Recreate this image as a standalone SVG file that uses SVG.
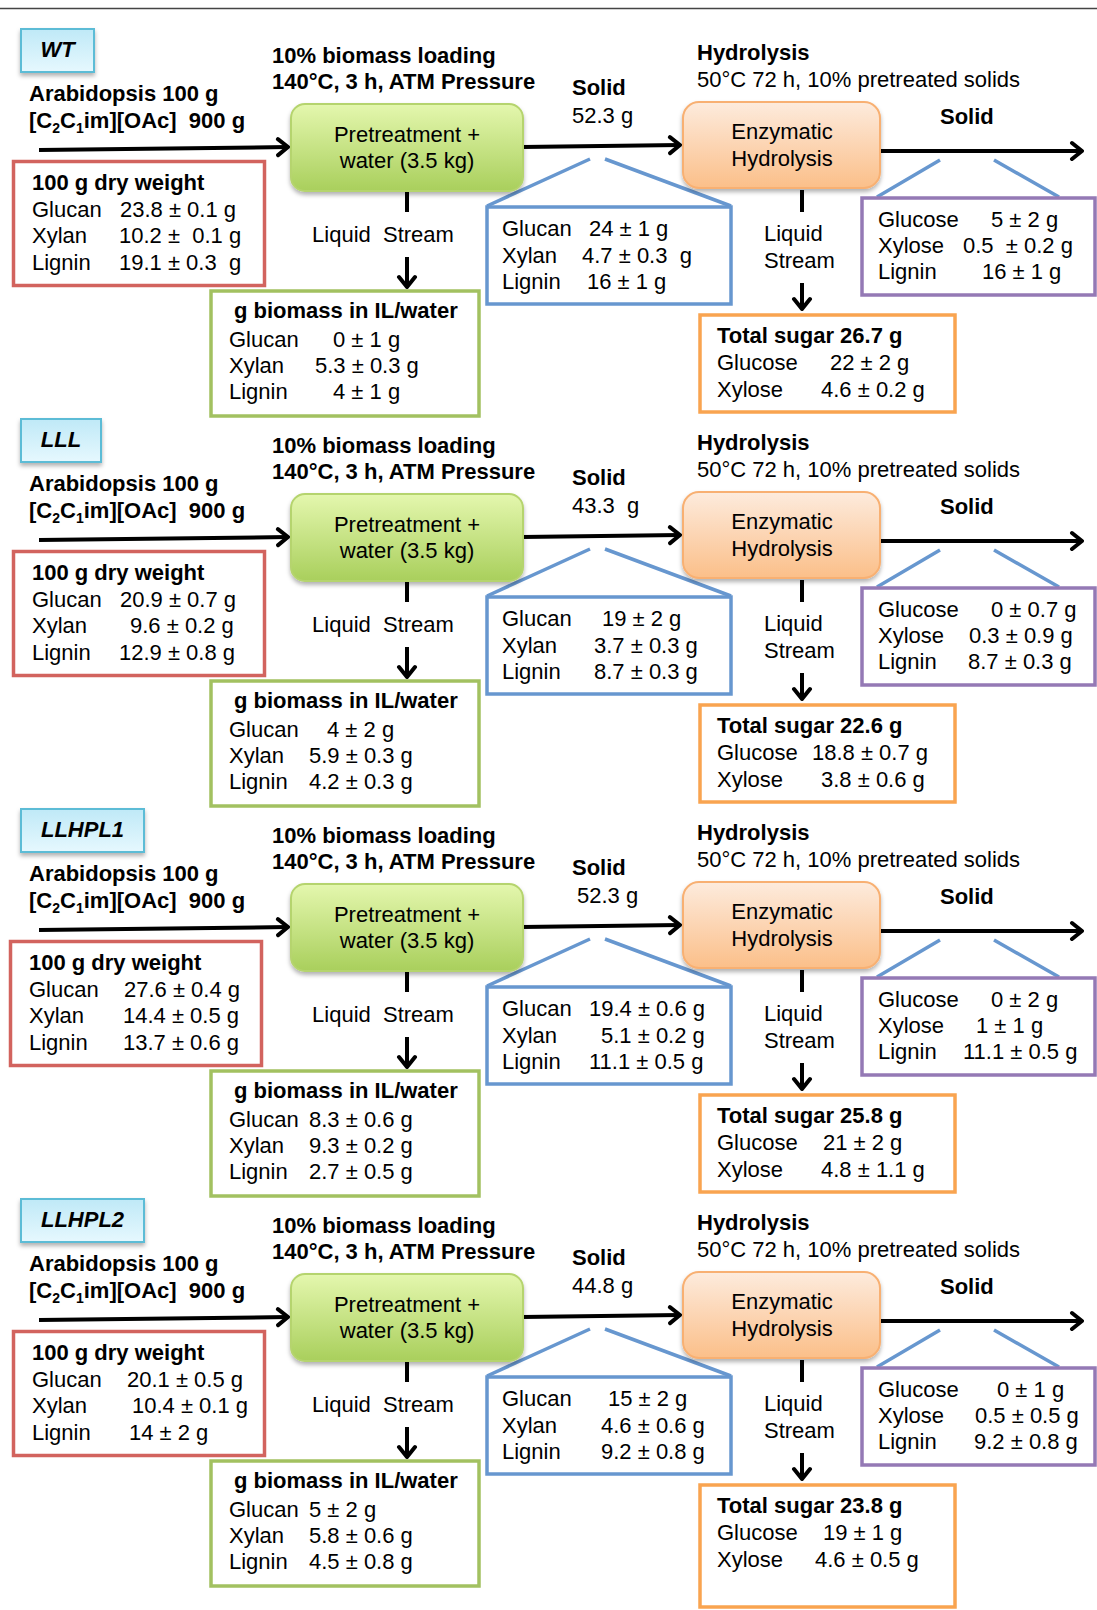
<svg xmlns="http://www.w3.org/2000/svg" width="1097" height="1610" viewBox="0 0 1097 1610">
<style>
text { font-family: "Liberation Sans", Arial, sans-serif; font-size: 22px; fill: #000; white-space: pre; }
.b { font-weight: bold; }
.bi { font-weight: bold; font-style: italic; }
.m { text-anchor: middle; }
.arrow { fill: none; stroke: #000; stroke-width: 4; marker-end: url(#ah); }
.line { fill: none; stroke: #000; stroke-width: 4; }
.tie { fill: none; stroke: #6797cf; stroke-width: 3.5; }
.red { fill: #fff; stroke: #d2635e; stroke-width: 3.5; }
.grn { fill: #fff; stroke: #a2c160; stroke-width: 3.5; }
.blu { fill: #fff; stroke: #6797cf; stroke-width: 3.5; }
.pur { fill: #fff; stroke: #9479b5; stroke-width: 3.5; }
.org { fill: #fff; stroke: #f9a450; stroke-width: 3.5; }
.lbl { fill: url(#gB); stroke: #5bbcd6; stroke-width: 2; filter: url(#sh); }
.pre { fill: url(#gG); stroke: #b5d46e; stroke-width: 2; filter: url(#sh); }
.enz { fill: url(#gO); stroke: #f8b072; stroke-width: 2; filter: url(#sh); }
</style>
<defs>
<marker id="ah" markerUnits="userSpaceOnUse" markerWidth="16" markerHeight="24" viewBox="-14 -12 16 24" refX="0" refY="0" orient="auto">
<path d="M-10,-8 L0,0 L-10,8" fill="none" stroke="#000" stroke-width="4" stroke-linejoin="round" stroke-linecap="round"/>
</marker>
<filter id="sh" x="-10%" y="-15%" width="125%" height="145%">
<feDropShadow dx="0" dy="3" stdDeviation="2" flood-color="#000" flood-opacity="0.3"/>
</filter>
<linearGradient id="gG" x1="0" y1="0" x2="0" y2="1"><stop offset="0" stop-color="#e4f7ae"/><stop offset="1" stop-color="#a9cf5c"/></linearGradient>
<linearGradient id="gO" x1="0" y1="0" x2="0" y2="1"><stop offset="0" stop-color="#fdebdd"/><stop offset="1" stop-color="#fbbf89"/></linearGradient>
<linearGradient id="gB" x1="0" y1="0" x2="0" y2="1"><stop offset="0" stop-color="#bfe9f7"/><stop offset="1" stop-color="#e6f8fe"/></linearGradient>
</defs>
<rect width="1097" height="1610" fill="#fff"/>
<line x1="0" y1="8.5" x2="1097" y2="8.5" stroke="#444" stroke-width="1.5"/>

<!-- Panel 1: WT -->
<g id="p1" transform="translate(0,0)">
 <g id="p1-connectors">
  <path class="arrow" d="M39,150 L288,147"/>
  <path class="arrow" d="M522,147 L680,145"/>
  <path class="arrow" d="M875,151 L1082,151"/>
  <path class="line" d="M407,191 V212"/>
  <path class="arrow" d="M407,257 V287"/>
  <path class="line" d="M802,190 V212"/>
  <path class="arrow" d="M802,283 V309"/>
  <path class="tie" d="M487,206 L590,159 M605,159 L731,206"/>
  <path class="tie" d="M877,197 L940,160 M994,160 L1059,197"/>
 </g>
 <g id="p1-label"><rect class="lbl" x="21" y="29" width="73" height="43"/><text class="bi m" x="57.5" y="57">WT</text></g>
 <g id="p1-input"><text class="b" x="29" y="101">Arabidopsis 100 g</text><text class="b" x="29" y="128">[C<tspan font-size="14" dy="5">2</tspan><tspan dy="-5">C</tspan><tspan font-size="14" dy="5">1</tspan><tspan dy="-5">im][OAc]  900 g</tspan></text></g>
 <g id="p1-cond"><text class="b" x="272" y="63">10% biomass loading</text><text class="b" x="272" y="89">140°C, 3 h, ATM Pressure</text></g>
 <g id="p1-pretreat"><rect class="pre" x="291" y="104" width="232" height="87" rx="14"/><text class="m" x="407" y="142">Pretreatment +</text><text class="m" x="407" y="168">water (3.5 kg)</text></g>
 <g id="p1-dry"><rect class="red" x="13.5" y="161.5" width="251" height="124"/><text class="b" x="32" y="190">100 g dry weight</text><text x="32" y="217">Glucan</text><text x="32" y="243">Xylan</text><text x="32" y="270">Lignin</text><text x="120" y="217">23.8 ± 0.1 g</text><text x="119" y="243">10.2 ±  0.1 g</text><text x="119" y="270">19.1 ± 0.3  g</text></g>
 <g id="p1-liqlabel"><text class="m" x="383" y="242">Liquid  Stream</text></g>
 <g id="p1-il"><rect class="grn" x="211" y="291" width="268" height="125"/><text class="b" x="234" y="318">g biomass in IL/water</text><text x="229" y="347">Glucan</text><text x="229" y="373">Xylan</text><text x="229" y="399">Lignin</text><text x="333" y="347">0 ± 1 g</text><text x="315" y="373">5.3 ± 0.3 g</text><text x="333" y="399">4 ± 1 g</text></g>
 <g id="p1-solidlabel"><text class="b" x="572" y="95">Solid</text><text x="572" y="123">52.3 g</text></g>
 <g id="p1-solid"><rect class="blu" x="487" y="207" width="244" height="97"/><text x="502" y="236">Glucan</text><text x="502" y="263">Xylan</text><text x="502" y="289">Lignin</text><text x="589" y="236">24 ± 1 g</text><text x="582" y="263">4.7 ± 0.3  g</text><text x="587" y="289">16 ± 1 g</text></g>
 <g id="p1-hydcond"><text class="b" x="697" y="60">Hydrolysis</text><text x="697" y="87">50°C 72 h, 10% pretreated solids</text></g>
 <g id="p1-enz"><rect class="enz" x="683" y="102" width="197" height="86" rx="16"/><text class="m" x="782" y="139">Enzymatic</text><text class="m" x="782" y="166">Hydrolysis</text></g>
 <g id="p1-solid2label"><text class="b" x="940" y="124">Solid</text></g>
 <g id="p1-residue"><rect class="pur" x="862" y="198" width="233" height="97"/><text x="878" y="227">Glucose</text><text x="878" y="253">Xylose</text><text x="878" y="279">Lignin</text><text x="991" y="227">5 ± 2 g</text><text x="963" y="253">0.5  ± 0.2 g</text><text x="982" y="279">16 ± 1 g</text></g>
 <g id="p1-liq2label"><text x="764" y="241">Liquid</text><text x="764" y="268">Stream</text></g>
 <g id="p1-sugar"><rect class="org" x="700" y="315" width="255" height="97"/><text class="b" x="717" y="343">Total sugar 26.7 g</text><text x="717" y="370">Glucose</text><text x="717" y="397">Xylose</text><text x="830" y="370">22 ± 2 g</text><text x="821" y="397">4.6 ± 0.2 g</text></g>
</g>

<!-- Panel 2: LLL -->
<g id="p2" transform="translate(0,390)">
 <g id="p2-connectors">
  <path class="arrow" d="M39,150 L288,147"/>
  <path class="arrow" d="M522,147 L680,145"/>
  <path class="arrow" d="M875,151 L1082,151"/>
  <path class="line" d="M407,191 V212"/>
  <path class="arrow" d="M407,257 V287"/>
  <path class="line" d="M802,190 V212"/>
  <path class="arrow" d="M802,283 V309"/>
  <path class="tie" d="M487,206 L590,159 M605,159 L731,206"/>
  <path class="tie" d="M877,197 L940,160 M994,160 L1059,197"/>
 </g>
 <g id="p2-label"><rect class="lbl" x="21" y="29" width="80" height="43"/><text class="bi m" x="61" y="57">LLL</text></g>
 <g id="p2-input"><text class="b" x="29" y="101">Arabidopsis 100 g</text><text class="b" x="29" y="128">[C<tspan font-size="14" dy="5">2</tspan><tspan dy="-5">C</tspan><tspan font-size="14" dy="5">1</tspan><tspan dy="-5">im][OAc]  900 g</tspan></text></g>
 <g id="p2-cond"><text class="b" x="272" y="63">10% biomass loading</text><text class="b" x="272" y="89">140°C, 3 h, ATM Pressure</text></g>
 <g id="p2-pretreat"><rect class="pre" x="291" y="104" width="232" height="87" rx="14"/><text class="m" x="407" y="142">Pretreatment +</text><text class="m" x="407" y="168">water (3.5 kg)</text></g>
 <g id="p2-dry"><rect class="red" x="13.5" y="161.5" width="251" height="124"/><text class="b" x="32" y="190">100 g dry weight</text><text x="32" y="217">Glucan</text><text x="32" y="243">Xylan</text><text x="32" y="270">Lignin</text><text x="120" y="217">20.9 ± 0.7 g</text><text x="130" y="243">9.6 ± 0.2 g</text><text x="119" y="270">12.9 ± 0.8 g</text></g>
 <g id="p2-liqlabel"><text class="m" x="383" y="242">Liquid  Stream</text></g>
 <g id="p2-il"><rect class="grn" x="211" y="291" width="268" height="125"/><text class="b" x="234" y="318">g biomass in IL/water</text><text x="229" y="347">Glucan</text><text x="229" y="373">Xylan</text><text x="229" y="399">Lignin</text><text x="327" y="347">4 ± 2 g</text><text x="309" y="373">5.9 ± 0.3 g</text><text x="309" y="399">4.2 ± 0.3 g</text></g>
 <g id="p2-solidlabel"><text class="b" x="572" y="95">Solid</text><text x="572" y="123">43.3  g</text></g>
 <g id="p2-solid"><rect class="blu" x="487" y="207" width="244" height="97"/><text x="502" y="236">Glucan</text><text x="502" y="263">Xylan</text><text x="502" y="289">Lignin</text><text x="602" y="236">19 ± 2 g</text><text x="594" y="263">3.7 ± 0.3 g</text><text x="594" y="289">8.7 ± 0.3 g</text></g>
 <g id="p2-hydcond"><text class="b" x="697" y="60">Hydrolysis</text><text x="697" y="87">50°C 72 h, 10% pretreated solids</text></g>
 <g id="p2-enz"><rect class="enz" x="683" y="102" width="197" height="86" rx="16"/><text class="m" x="782" y="139">Enzymatic</text><text class="m" x="782" y="166">Hydrolysis</text></g>
 <g id="p2-solid2label"><text class="b" x="940" y="124">Solid</text></g>
 <g id="p2-residue"><rect class="pur" x="862" y="198" width="233" height="97"/><text x="878" y="227">Glucose</text><text x="878" y="253">Xylose</text><text x="878" y="279">Lignin</text><text x="991" y="227">0 ± 0.7 g</text><text x="969" y="253">0.3 ± 0.9 g</text><text x="968" y="279">8.7 ± 0.3 g</text></g>
 <g id="p2-liq2label"><text x="764" y="241">Liquid</text><text x="764" y="268">Stream</text></g>
 <g id="p2-sugar"><rect class="org" x="700" y="315" width="255" height="97"/><text class="b" x="717" y="343">Total sugar 22.6 g</text><text x="717" y="370">Glucose</text><text x="717" y="397">Xylose</text><text x="812" y="370">18.8 ± 0.7 g</text><text x="821" y="397">3.8 ± 0.6 g</text></g>
</g>

<!-- Panel 3: LLHPL1 -->
<g id="p3" transform="translate(0,780)">
 <g id="p3-connectors">
  <path class="arrow" d="M39,150 L288,147"/>
  <path class="arrow" d="M522,147 L680,145"/>
  <path class="arrow" d="M875,151 L1082,151"/>
  <path class="line" d="M407,191 V212"/>
  <path class="arrow" d="M407,257 V287"/>
  <path class="line" d="M802,190 V212"/>
  <path class="arrow" d="M802,283 V309"/>
  <path class="tie" d="M487,206 L590,159 M605,159 L731,206"/>
  <path class="tie" d="M877,197 L940,160 M994,160 L1059,197"/>
 </g>
 <g id="p3-label"><rect class="lbl" x="21" y="29" width="123" height="43"/><text class="bi m" x="82.5" y="57">LLHPL1</text></g>
 <g id="p3-input"><text class="b" x="29" y="101">Arabidopsis 100 g</text><text class="b" x="29" y="128">[C<tspan font-size="14" dy="5">2</tspan><tspan dy="-5">C</tspan><tspan font-size="14" dy="5">1</tspan><tspan dy="-5">im][OAc]  900 g</tspan></text></g>
 <g id="p3-cond"><text class="b" x="272" y="63">10% biomass loading</text><text class="b" x="272" y="89">140°C, 3 h, ATM Pressure</text></g>
 <g id="p3-pretreat"><rect class="pre" x="291" y="104" width="232" height="87" rx="14"/><text class="m" x="407" y="142">Pretreatment +</text><text class="m" x="407" y="168">water (3.5 kg)</text></g>
 <g id="p3-dry"><rect class="red" x="10.5" y="161.5" width="251" height="124"/><text class="b" x="29" y="190">100 g dry weight</text><text x="29" y="217">Glucan</text><text x="29" y="243">Xylan</text><text x="29" y="270">Lignin</text><text x="124" y="217">27.6 ± 0.4 g</text><text x="123" y="243">14.4 ± 0.5 g</text><text x="123" y="270">13.7 ± 0.6 g</text></g>
 <g id="p3-liqlabel"><text class="m" x="383" y="242">Liquid  Stream</text></g>
 <g id="p3-il"><rect class="grn" x="211" y="291" width="268" height="125"/><text class="b" x="234" y="318">g biomass in IL/water</text><text x="229" y="347">Glucan</text><text x="229" y="373">Xylan</text><text x="229" y="399">Lignin</text><text x="309" y="347">8.3 ± 0.6 g</text><text x="309" y="373">9.3 ± 0.2 g</text><text x="309" y="399">2.7 ± 0.5 g</text></g>
 <g id="p3-solidlabel"><text class="b" x="572" y="95">Solid</text><text x="577" y="123">52.3 g</text></g>
 <g id="p3-solid"><rect class="blu" x="487" y="207" width="244" height="97"/><text x="502" y="236">Glucan</text><text x="502" y="263">Xylan</text><text x="502" y="289">Lignin</text><text x="589" y="236">19.4 ± 0.6 g</text><text x="601" y="263">5.1 ± 0.2 g</text><text x="589" y="289">11.1 ± 0.5 g</text></g>
 <g id="p3-hydcond"><text class="b" x="697" y="60">Hydrolysis</text><text x="697" y="87">50°C 72 h, 10% pretreated solids</text></g>
 <g id="p3-enz"><rect class="enz" x="683" y="102" width="197" height="86" rx="16"/><text class="m" x="782" y="139">Enzymatic</text><text class="m" x="782" y="166">Hydrolysis</text></g>
 <g id="p3-solid2label"><text class="b" x="940" y="124">Solid</text></g>
 <g id="p3-residue"><rect class="pur" x="862" y="198" width="233" height="97"/><text x="878" y="227">Glucose</text><text x="878" y="253">Xylose</text><text x="878" y="279">Lignin</text><text x="991" y="227">0 ± 2 g</text><text x="976" y="253">1 ± 1 g</text><text x="963" y="279">11.1 ± 0.5 g</text></g>
 <g id="p3-liq2label"><text x="764" y="241">Liquid</text><text x="764" y="268">Stream</text></g>
 <g id="p3-sugar"><rect class="org" x="700" y="315" width="255" height="97"/><text class="b" x="717" y="343">Total sugar 25.8 g</text><text x="717" y="370">Glucose</text><text x="717" y="397">Xylose</text><text x="823" y="370">21 ± 2 g</text><text x="821" y="397">4.8 ± 1.1 g</text></g>
</g>

<!-- Panel 4: LLHPL2 -->
<g id="p4" transform="translate(0,1170)">
 <g id="p4-connectors">
  <path class="arrow" d="M39,150 L288,147"/>
  <path class="arrow" d="M522,147 L680,145"/>
  <path class="arrow" d="M875,151 L1082,151"/>
  <path class="line" d="M407,191 V212"/>
  <path class="arrow" d="M407,257 V287"/>
  <path class="line" d="M802,190 V212"/>
  <path class="arrow" d="M802,283 V309"/>
  <path class="tie" d="M487,206 L590,159 M605,159 L731,206"/>
  <path class="tie" d="M877,197 L940,160 M994,160 L1059,197"/>
 </g>
 <g id="p4-label"><rect class="lbl" x="21" y="29" width="123" height="43"/><text class="bi m" x="82.5" y="57">LLHPL2</text></g>
 <g id="p4-input"><text class="b" x="29" y="101">Arabidopsis 100 g</text><text class="b" x="29" y="128">[C<tspan font-size="14" dy="5">2</tspan><tspan dy="-5">C</tspan><tspan font-size="14" dy="5">1</tspan><tspan dy="-5">im][OAc]  900 g</tspan></text></g>
 <g id="p4-cond"><text class="b" x="272" y="63">10% biomass loading</text><text class="b" x="272" y="89">140°C, 3 h, ATM Pressure</text></g>
 <g id="p4-pretreat"><rect class="pre" x="291" y="104" width="232" height="87" rx="14"/><text class="m" x="407" y="142">Pretreatment +</text><text class="m" x="407" y="168">water (3.5 kg)</text></g>
 <g id="p4-dry"><rect class="red" x="13.5" y="161.5" width="251" height="124"/><text class="b" x="32" y="190">100 g dry weight</text><text x="32" y="217">Glucan</text><text x="32" y="243">Xylan</text><text x="32" y="270">Lignin</text><text x="127" y="217">20.1 ± 0.5 g</text><text x="132" y="243">10.4 ± 0.1 g</text><text x="129" y="270">14 ± 2 g</text></g>
 <g id="p4-liqlabel"><text class="m" x="383" y="242">Liquid  Stream</text></g>
 <g id="p4-il"><rect class="grn" x="211" y="291" width="268" height="125"/><text class="b" x="234" y="318">g biomass in IL/water</text><text x="229" y="347">Glucan</text><text x="229" y="373">Xylan</text><text x="229" y="399">Lignin</text><text x="309" y="347">5 ± 2 g</text><text x="309" y="373">5.8 ± 0.6 g</text><text x="309" y="399">4.5 ± 0.8 g</text></g>
 <g id="p4-solidlabel"><text class="b" x="572" y="95">Solid</text><text x="572" y="123">44.8 g</text></g>
 <g id="p4-solid"><rect class="blu" x="487" y="207" width="244" height="97"/><text x="502" y="236">Glucan</text><text x="502" y="263">Xylan</text><text x="502" y="289">Lignin</text><text x="608" y="236">15 ± 2 g</text><text x="601" y="263">4.6 ± 0.6 g</text><text x="601" y="289">9.2 ± 0.8 g</text></g>
 <g id="p4-hydcond"><text class="b" x="697" y="60">Hydrolysis</text><text x="697" y="87">50°C 72 h, 10% pretreated solids</text></g>
 <g id="p4-enz"><rect class="enz" x="683" y="102" width="197" height="86" rx="16"/><text class="m" x="782" y="139">Enzymatic</text><text class="m" x="782" y="166">Hydrolysis</text></g>
 <g id="p4-solid2label"><text class="b" x="940" y="124">Solid</text></g>
 <g id="p4-residue"><rect class="pur" x="862" y="198" width="233" height="97"/><text x="878" y="227">Glucose</text><text x="878" y="253">Xylose</text><text x="878" y="279">Lignin</text><text x="997" y="227">0 ± 1 g</text><text x="975" y="253">0.5 ± 0.5 g</text><text x="974" y="279">9.2 ± 0.8 g</text></g>
 <g id="p4-liq2label"><text x="764" y="241">Liquid</text><text x="764" y="268">Stream</text></g>
 <g id="p4-sugar"><rect class="org" x="700" y="315" width="255" height="122"/><text class="b" x="717" y="343">Total sugar 23.8 g</text><text x="717" y="370">Glucose</text><text x="717" y="397">Xylose</text><text x="823" y="370">19 ± 1 g</text><text x="815" y="397">4.6 ± 0.5 g</text></g>
</g>
</svg>
